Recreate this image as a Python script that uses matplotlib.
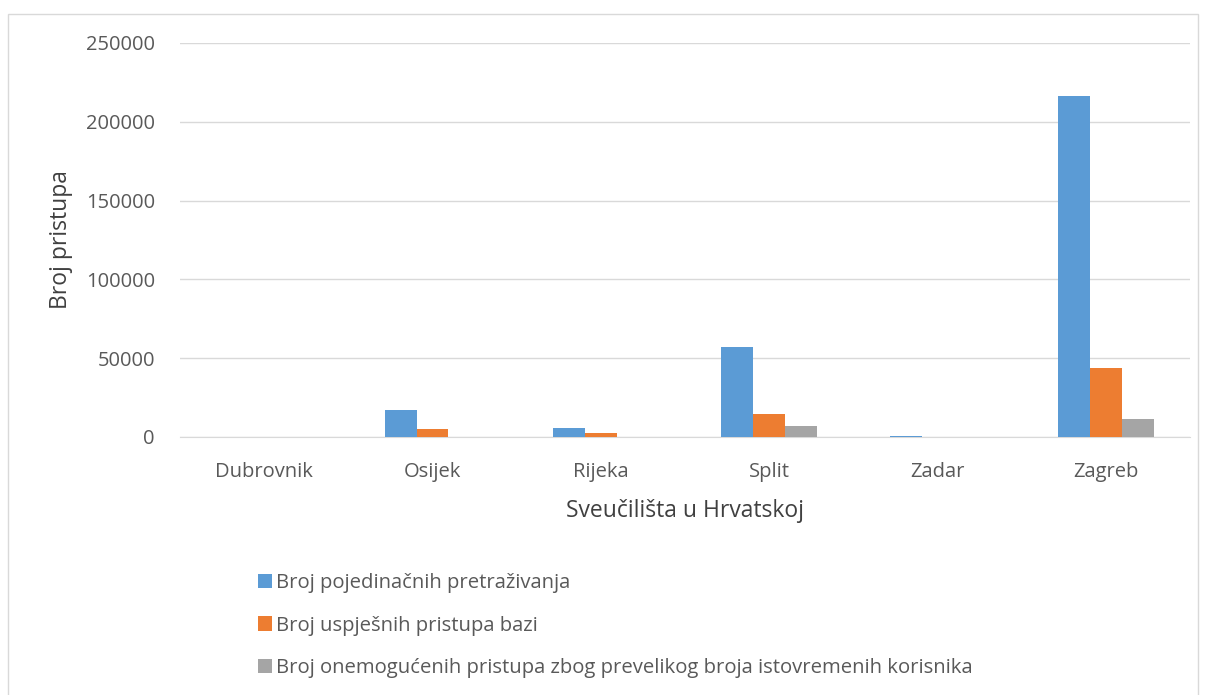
import numpy as np
import matplotlib
matplotlib.use("Agg")
import matplotlib.pyplot as plt
from matplotlib.patches import Rectangle

sveucilista = ["Dubrovnik", "Osijek", "Rijeka", "Split", "Zadar", "Zagreb"]
pretrazivanja = [0, 17000, 5800, 56800, 600, 216500]
uspjesni = [0, 4800, 2600, 14700, 200, 43900]
onemoguceni = [0, 0, 0, 6800, 0, 11500]

serije = ["Broj pojedinačnih pretraživanja",
          "Broj uspješnih pristupa bazi",
          "Broj onemogućenih pristupa zbog prevelikog broja istovremenih korisnika"]
boje = ["#5b9bd5", "#ed7d31", "#a5a5a5"]

plt.rcParams['font.family'] = ['Open Sans', 'DejaVu Sans']

fig = plt.figure(figsize=(12.06, 6.95), dpi=100)
fig.patches.append(Rectangle((8 / 1206, -0.01), 1190 / 1206, 1 - 14 / 695 + 0.01,
                             transform=fig.transFigure, fill=False,
                             edgecolor="#d9d9d9", linewidth=1))
ax = fig.add_axes([180 / 1206, 1 - 437 / 695, 1010 / 1206, 394 / 695])

x = np.arange(len(sveucilista))
w = 0.19
for i, (vals, name) in enumerate(zip([pretrazivanja, uspjesni, onemoguceni], serije)):
    ax.bar(x + (i - 1) * w, vals, w, color=boje[i], label=name, zorder=3)

ax.set_xlim(-0.5, len(sveucilista) - 0.5)
ax.set_ylim(0, 250000)
ax.set_yticks(np.arange(0, 250001, 50000))
ax.grid(axis="y", color="#d9d9d9", linewidth=1, zorder=0)
for s in ["top", "right", "left"]:
    ax.spines[s].set_visible(False)
ax.spines["bottom"].set_color("#d9d9d9")
ax.tick_params(length=0, labelsize=14.5, colors="#595959")
ax.tick_params(axis="x", pad=18)
ax.tick_params(axis="y", pad=18)
ax.set_xticks(x)
ax.set_xticklabels(sveucilista)
ax.set_ylabel("Broj pristupa", fontsize=16.5, color="#404040", labelpad=9)
ax.set_xlabel("Sveučilišta u Hrvatskoj", fontsize=16.5, color="#404040", labelpad=12)

ax.legend(loc="upper left", bbox_to_anchor=(240 / 1206, 1 - 555 / 695),
          bbox_transform=fig.transFigure, frameon=False, fontsize=14.6,
          labelcolor="#595959", handlelength=0.7, handleheight=0.7,
          handletextpad=0.2, labelspacing=1.1)

fig.savefig("out.png", dpi=100)
